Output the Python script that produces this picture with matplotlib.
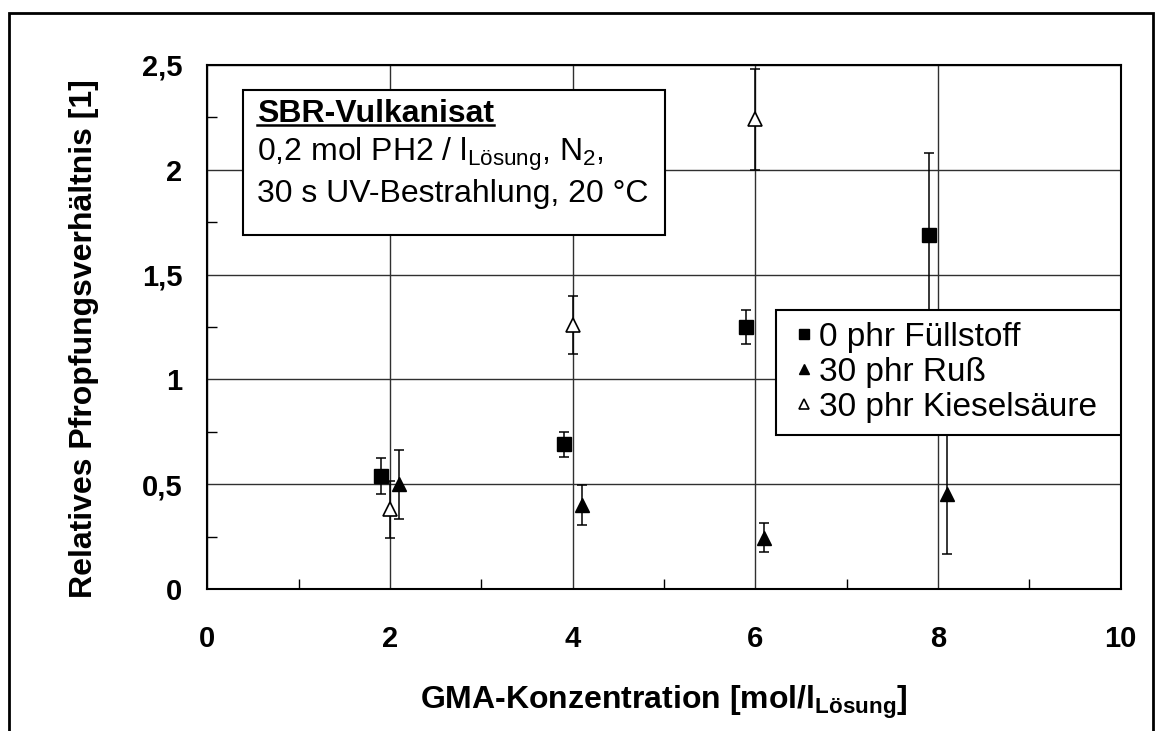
import matplotlib
matplotlib.use("Agg")
import matplotlib.pyplot as plt
from matplotlib.patches import Rectangle
from matplotlib.lines import Line2D

plt.rcParams['font.family'] = ['Liberation Sans', 'DejaVu Sans']
plt.rcParams['mathtext.fontset'] = 'custom'
plt.rcParams['mathtext.rm'] = 'Liberation Sans'
plt.rcParams['mathtext.bf'] = 'Liberation Sans:bold'
plt.rcParams['mathtext.it'] = 'Liberation Sans:italic'

# data
x_fuell = [1.9, 3.9, 5.9, 7.9]
y_fuell = [0.54, 0.69, 1.25, 1.69]
e_fuell = [0.085, 0.06, 0.08, 0.39]

x_russ = [2.1, 4.1, 6.1, 8.1]
y_russ = [0.50, 0.40, 0.245, 0.455]
e_russ = [0.165, 0.095, 0.068, 0.29]

x_kiesel = [2.0, 4.0, 6.0]
y_kiesel = [0.38, 1.26, 2.24]
e_kiesel = [0.135, 0.14, 0.24]

labels = ['0 phr Füllstoff', '30 phr Ruß', '30 phr Kieselsäure']
yticks = [0, 0.5, 1, 1.5, 2, 2.5]
ytick_labels = ['0', '0,5', '1', '1,5', '2', '2,5']
xticks = [0, 2, 4, 6, 8, 10]

W, H = 1162, 731
fig = plt.figure(figsize=(W / 100, H / 100), dpi=100)
ax = fig.add_axes([207.3 / W, 1 - 589 / H, 913.4 / W, 524 / H])

eb = dict(fmt='none', ecolor='black', elinewidth=1.1, capsize=3.5, capthick=1.1, zorder=3)
ax.errorbar(x_fuell, y_fuell, yerr=e_fuell, **eb)
ax.errorbar(x_russ, y_russ, yerr=e_russ, **eb)
ax.errorbar(x_kiesel, y_kiesel, yerr=e_kiesel, **eb)

ax.plot(x_fuell, y_fuell, 's', color='black', ms=10.5, ls='none', label=labels[0], zorder=4)
ax.plot(x_russ, y_russ, '^', color='black', ms=10, ls='none', label=labels[1], zorder=4)
ax.plot(x_kiesel, y_kiesel, '^', mfc='white', mec='black', mew=1.2, ms=10, ls='none',
        label=labels[2], zorder=4)

ax.set_xlim(0, 10)
ax.set_ylim(0, 2.5)
ax.set_xticks(xticks)
ax.set_xticks([1, 3, 5, 7, 9], minor=True)
ax.set_yticks(yticks)
ax.set_yticklabels(ytick_labels)
ax.set_yticks([0.25, 0.75, 1.25, 1.75, 2.25], minor=True)
ax.grid(True, which='major', color='#303030', lw=1.0, zorder=0)
ax.set_axisbelow(True)
ax.tick_params(which='both', direction='in', top=False, right=False)
ax.tick_params(which='major', length=0)
ax.tick_params(which='minor', length=7, width=1)
ax.tick_params(axis='x', which='major', pad=26, labelsize=21)
ax.tick_params(axis='y', which='major', pad=18, labelsize=21)
for lab in ax.get_xticklabels() + ax.get_yticklabels():
    lab.set_fontweight('bold')
for sp in ax.spines.values():
    sp.set_linewidth(1.5)

ax.set_xlabel(r'GMA-Konzentration [mol/l$_{\mathbf{Lösung}}$]', fontsize=23, fontweight='bold')
ax.set_ylabel('Relatives Pfropfungsverhältnis [1]', fontsize=23, fontweight='bold')
ax.xaxis.set_label_coords(0.5, -0.181)
ax.yaxis.set_label_coords(-0.119, 0.477)

# annotation box
ax.add_patch(Rectangle((0.0391, 0.6756), 0.462, 0.2764, transform=ax.transAxes,
                       facecolor='white', edgecolor='black', lw=1.5, zorder=5))
t1 = ax.text(0.0544, 0.906, 'SBR-Vulkanisat', transform=ax.transAxes, fontsize=23,
             fontweight='bold', va='center', ha='left', zorder=6)
ax.text(0.0544, 0.830, r'0,2 mol PH2 / l$_{\mathrm{Lösung}}$, N$_2$,', transform=ax.transAxes,
        fontsize=23, va='center', ha='left', zorder=6)
ax.text(0.0544, 0.754, '30 s UV-Bestrahlung, 20 °C', transform=ax.transAxes,
        fontsize=23, va='center', ha='left', zorder=6)

# legend frame drawn separately so its size can match
lx0, ly0, lx1, ly1 = (776 - 207.3) / 913.4, (589 - 435) / 524, 1.0, (589 - 310) / 524
ax.add_patch(Rectangle((lx0, ly0), lx1 - lx0, ly1 - ly0, transform=ax.transAxes,
                       facecolor='white', edgecolor='black', lw=1.5, zorder=6))
leg = ax.legend(loc='center', bbox_to_anchor=((lx0 + lx1) / 2, (ly0 + ly1) / 2),
                borderaxespad=0, borderpad=0, fontsize=24, frameon=False,
                markerscale=0.65, handlelength=0.3, handletextpad=0.3, labelspacing=0.12)
leg.set_zorder(7)

# underline for the box title
fig.canvas.draw()
bb = t1.get_window_extent()
inv = fig.transFigure.inverted()
(ux0, uy), (ux1, _) = inv.transform([(bb.x0, bb.y0 + 4), (bb.x1, bb.y0 + 4)])
fig.add_artist(Line2D([ux0, ux1], [uy, uy], transform=fig.transFigure,
                      color='black', lw=1.8, zorder=8))

# outer frame of the chart area
fig.add_artist(Rectangle((9 / W, -0.05), 1144 / W, 1.05 - 13 / H, transform=fig.transFigure,
                         fill=False, edgecolor='black', lw=2))

fig.savefig('out.png', dpi=100)
